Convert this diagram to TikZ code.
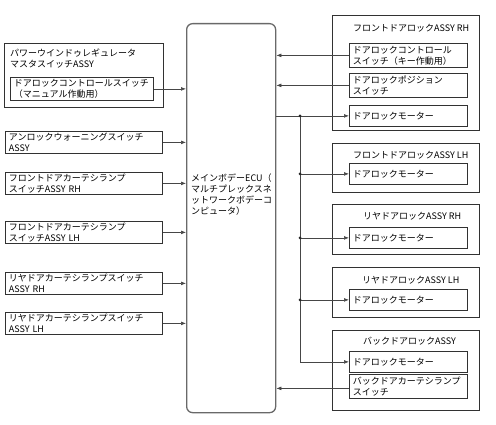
\documentclass[tikz,border=0pt]{standalone}
\usepackage{fontspec}
\setmainfont{Noto Sans CJK JP}
\usetikzlibrary{arrows.meta,calc}
\definecolor{lineg}{RGB}{70,70,70}
\definecolor{boxg}{RGB}{50,50,50}
\definecolor{ecug}{RGB}{105,105,105}

\begin{document}
\begin{tikzpicture}[x=1pt,y=-1pt,>=Latex,font=\fontsize{9}{11}\selectfont,
    every node/.style={align=left},
    part/.style={draw=boxg,line width=.8pt,anchor=north west,inner xsep=3.5pt,inner ysep=1pt,text width=#1},
    group/.style={draw=boxg,line width=.8pt,anchor=north west,inner sep=0pt},
    title/.style={anchor=west,inner sep=0pt},
    wire/.style={draw=lineg,line width=.6pt},
    sig/.style={wire,-{Latex[length=5pt,width=3.8pt]}},
    tap/.style={circle,fill=black!85,inner sep=0pt,minimum size=3pt}]
    \useasboundingbox[fill=white] (0,0) rectangle (496,425);

    % body ECU
    \node[draw=ecug,line width=1.3pt,rounded corners=6pt,anchor=north west,minimum width=89pt,minimum height=389pt] (ecu) at (186,23) {};
    \node[title] (ecutext) at (191,194.5) {メインボデーECU（\\マルチプレックスネ\\ットワークボデーコ\\ンピュータ）};

    % left side switches
    \node[group,minimum width=159pt,minimum height=64pt] (pwm) at (4,43) {};
    \node[title] (pwmtitle) at (10,58.5) {パワーウインドゥレギュレータ\\マスタスイッチASSY};
    \node[part=136pt,minimum height=23pt] (l1) at (10,77) {ドアロックコントロールスイッチ\\（マニュアル作動用）};
    \node[part=150pt,minimum height=22pt] (l2) at (5,131) {アンロックウォーニングスイッチ\\ASSY};
    \node[part=150pt,minimum height=22pt] (l3) at (5,172) {フロントドアカーテシランプ\\スイッチASSY RH};
    \node[part=150pt,minimum height=22pt] (l4) at (5,221) {フロントドアカーテシランプ\\スイッチASSY LH};
    \node[part=150pt,minimum height=22pt] (l5) at (5,272) {リヤドアカーテシランプスイッチ\\ASSY RH};
    \node[part=150pt,minimum height=22pt] (l6) at (5,312) {リヤドアカーテシランプスイッチ\\ASSY LH};

    % right side door locks
    \node[group,minimum width=147pt,minimum height=115pt] (fr) at (332,15) {};
    \node[title] (frtitle) at (353,28) {フロントドアロックASSY RH};
    \node[part=111pt,minimum height=24pt] (ra) at (349,43) {ドアロックコントロール\\スイッチ（キー作動用）};
    \node[part=111pt,minimum height=24pt] (rb) at (349,73) {ドアロックポジション\\スイッチ};
    \node[part=111pt,minimum height=21pt] (m1) at (349,105) {ドアロックモーター};

    \node[group,minimum width=147pt,minimum height=49pt] (fl) at (332,143) {};
    \node[title] (fltitle) at (353,155) {フロントドアロックASSY LH};
    \node[part=111pt,minimum height=21pt] (m2) at (349,163) {ドアロックモーター};

    \node[group,minimum width=147pt,minimum height=50pt] (rr) at (332,204) {};
    \node[title] (rrtitle) at (363,216) {リヤドアロックASSY RH};
    \node[part=111pt,minimum height=21pt] (m3) at (349,227) {ドアロックモーター};

    \node[group,minimum width=147pt,minimum height=50pt] (rl) at (332,267) {};
    \node[title] (rltitle) at (362,280) {リヤドアロックASSY LH};
    \node[part=111pt,minimum height=21pt] (m4) at (349,289) {ドアロックモーター};

    \node[group,minimum width=147pt,minimum height=80pt] (bk) at (332,330) {};
    \node[title] (bktitle) at (363,341) {バックドアロックASSY};
    \node[part=111pt,minimum height=21pt] (m5) at (349,351) {ドアロックモーター};
    \node[part=111pt,minimum height=24pt] (rsw) at (349,374) {バックドアカーテシランプ\\スイッチ};

    % signals into the ECU
    \foreach \s in {l1,l2,l3,l4,l5,l6}
      \draw[sig] (\s.east) -- (ecu.west |- \s.east);
    \foreach \s in {ra,rb}
      \draw[sig] (\s.west) -- (ecu.east |- \s.west);
    \coordinate (swout) at ([yshift=-2pt]rsw.west);
    \draw[sig] (swout) -- (ecu.east |- swout);

    % motor outputs
    \coordinate (bus) at (300,0);
    \draw[sig] (ecu.east |- m1.west) -- (m1.west);
    \draw[sig] (bus |- m1.west) -- (bus |- m5.west) -- (m5.west);
    \foreach \m in {m2,m3,m4}
      \draw[sig] (bus |- \m.west) -- (\m.west);
    \foreach \m in {m1,m2,m3,m4}
      \node[tap] at (bus |- \m.west) {};
  \end{tikzpicture}
\end{document}
